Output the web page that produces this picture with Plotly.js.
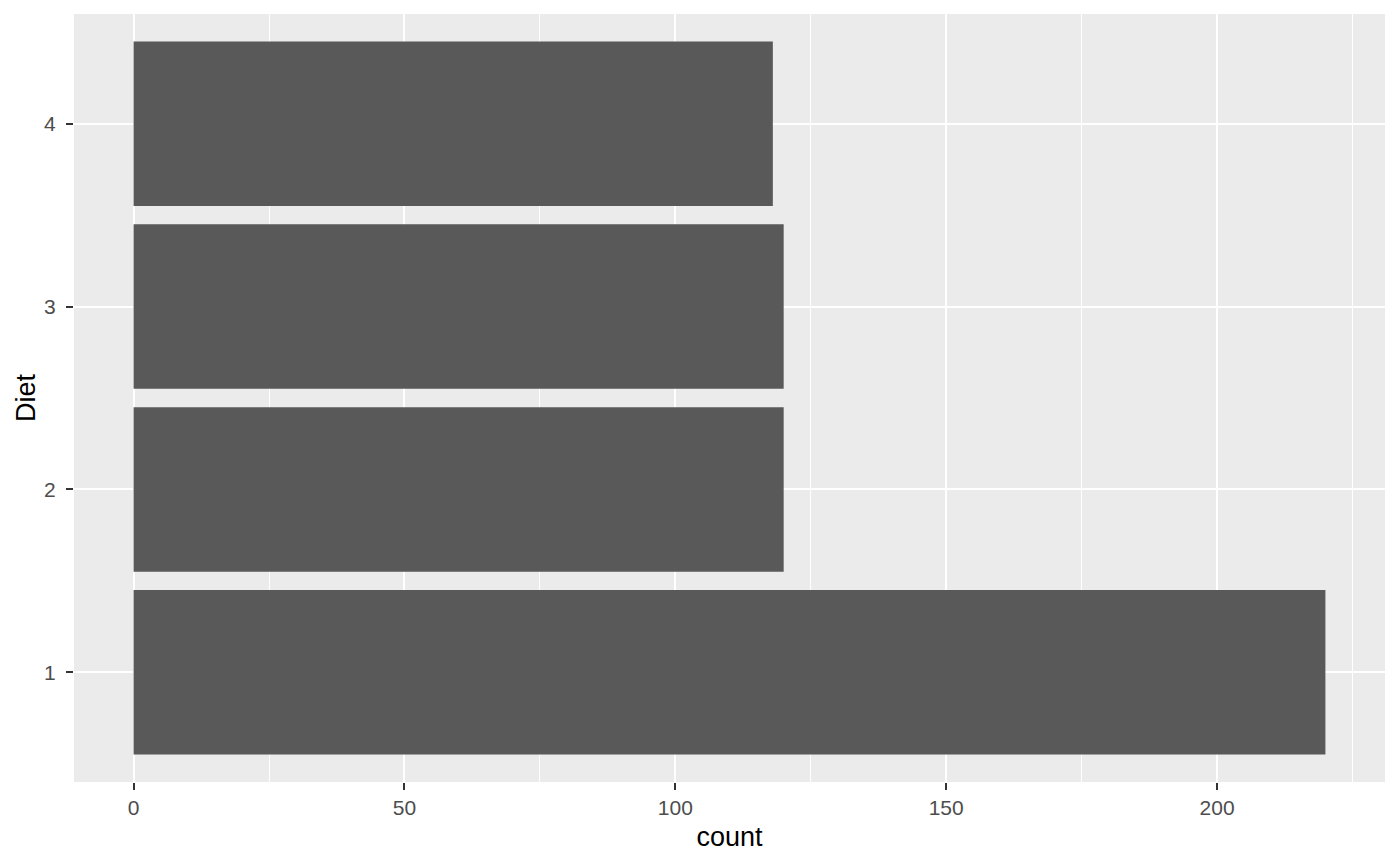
<!DOCTYPE html>
<html>
<head>
<meta charset="utf-8">
<script src="https://cdn.plot.ly/plotly-3.0.1.min.js"></script>
<style>html,body{margin:0;padding:0;background:#fff;}#chart{width:1400px;height:866px;}</style>
</head>
<body>
<div id="chart"></div>
<script>
const diets = ["1", "2", "3", "4"];
const counts = [220, 120, 120, 118];
const xTicks = [0, 50, 100, 150, 200];

const trace = {
  type: "bar",
  orientation: "h",
  y: diets,
  x: counts,
  width: 0.9,
  marker: { color: "#595959", line: { width: 0 } },
  hoverinfo: "x+y"
};

const layout = {
  width: 1400,
  height: 866,
  margin: { l: 74, r: 15, t: 14, b: 84, pad: 0 },
  paper_bgcolor: "#FFFFFF",
  plot_bgcolor: "#EBEBEB",
  font: { family: "Liberation Sans, Arial, sans-serif", color: "#000000" },
  showlegend: false,
  bargap: 0.1,
  xaxis: {
    range: [-11, 231],
    tickvals: xTicks,
    ticktext: xTicks.map(String),
    showgrid: true,
    gridcolor: "#FFFFFF",
    gridwidth: 2,
    zeroline: false,
    showline: false,
    ticks: "outside",
    ticklen: 7,
    tickwidth: 2,
    tickcolor: "#333333",
    tickfont: { size: 21, color: "#4D4D4D" },
    minor: { dtick: 25, tick0: 25, showgrid: true, gridcolor: "#FFFFFF", gridwidth: 1, ticks: "" },
    title: { text: "count", font: { size: 27, color: "#000000" }, standoff: 8 },
    automargin: false
  },
  yaxis: {
    type: "category",
    categoryorder: "array",
    categoryarray: diets,
    range: [-0.6, 3.6],
    showgrid: true,
    gridcolor: "#FFFFFF",
    gridwidth: 2,
    zeroline: false,
    showline: false,
    ticks: "outside",
    ticklen: 7,
    tickwidth: 2,
    tickcolor: "#333333",
    tickfont: { size: 21, color: "#4D4D4D" },
    ticklabelstandoff: 6,
    title: { text: "Diet", font: { size: 27, color: "#000000" }, standoff: 0 },
    automargin: false
  }
};

Plotly.newPlot("chart", [trace], layout, { displayModeBar: false, staticPlot: true });
</script>
</body>
</html>
